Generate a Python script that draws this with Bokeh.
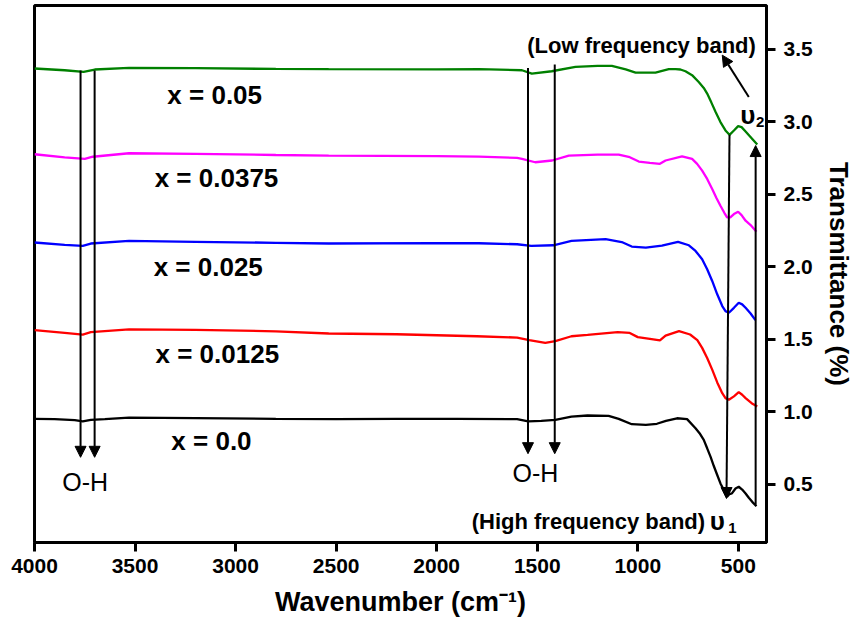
from bokeh.plotting import figure
from bokeh.models import Range1d, FixedTicker, NumeralTickFormatter, Arrow, NormalHead, ColumnDataSource
from bokeh.core.properties import value
from bokeh.embed import file_html
from bokeh.resources import INLINE

FONT = "Liberation Sans"

# ---- spectra (wavenumber cm-1, transmittance) ----
w_black = [4000, 3900, 3800, 3760, 3720, 3650, 3530, 3200, 2800, 2500, 2200, 1900, 1600, 1545, 1480, 1410,
           1330, 1250, 1145, 1095, 1030, 960, 905, 860, 805, 755, 713, 693, 672, 655, 638, 622, 605, 589,
           572, 556, 544, 532, 514, 498, 481, 464, 448, 431, 410]
t_black = [0.952, 0.950, 0.943, 0.934, 0.945, 0.950, 0.960, 0.957, 0.952, 0.950, 0.952, 0.952, 0.950, 0.934,
           0.938, 0.945, 0.968, 0.975, 0.973, 0.952, 0.915, 0.911, 0.918, 0.938, 0.956, 0.950, 0.887, 0.853,
           0.807, 0.749, 0.690, 0.627, 0.565, 0.507, 0.461, 0.415, 0.434, 0.438, 0.472, 0.484, 0.465, 0.438,
           0.408, 0.380, 0.350]

w_red = [4000, 3850, 3760, 3720, 3530, 3200, 2800, 2537, 2200, 1800, 1600, 1540, 1460, 1410, 1330, 1250,
         1100, 1040, 1000, 940, 890, 862, 795, 740, 704, 680, 655, 630, 605, 580, 564, 547, 522, 498, 481,
         464, 434, 406]
t_red = [1.563, 1.544, 1.533, 1.549, 1.568, 1.565, 1.555, 1.540, 1.535, 1.521, 1.512, 1.495, 1.475, 1.487,
         1.521, 1.530, 1.549, 1.544, 1.515, 1.503, 1.492, 1.526, 1.556, 1.533, 1.494, 1.441, 1.371, 1.291,
         1.203, 1.129, 1.095, 1.084, 1.107, 1.136, 1.118, 1.095, 1.060, 1.037]

w_blue = [4000, 3850, 3760, 3720, 3530, 3200, 2800, 2537, 2000, 1790, 1600, 1530, 1420, 1330, 1160, 1080,
          1030, 960, 880, 800, 746, 713, 680, 655, 630, 605, 580, 564, 547, 522, 498, 481, 464, 439, 415]
t_blue = [2.167, 2.151, 2.144, 2.160, 2.178, 2.172, 2.165, 2.160, 2.163, 2.162, 2.155, 2.144, 2.148, 2.178,
          2.190, 2.170, 2.139, 2.132, 2.145, 2.171, 2.148, 2.109, 2.052, 1.983, 1.902, 1.810, 1.729, 1.694,
          1.683, 1.717, 1.752, 1.741, 1.717, 1.678, 1.632]

w_magenta = [4000, 3850, 3750, 3710, 3530, 3200, 2800, 2537, 2000, 1790, 1600, 1576, 1510, 1426, 1343, 1200,
             1095, 1040, 995, 940, 890, 862, 780, 730, 705, 680, 655, 630, 609, 589, 569, 556, 540, 522, 501,
             484, 464, 439, 410]
t_magenta = [2.775, 2.754, 2.743, 2.758, 2.782, 2.778, 2.770, 2.766, 2.762, 2.759, 2.750, 2.743, 2.720, 2.732,
             2.766, 2.773, 2.773, 2.755, 2.725, 2.716, 2.709, 2.732, 2.761, 2.743, 2.709, 2.662, 2.605, 2.536,
             2.474, 2.420, 2.370, 2.340, 2.340, 2.363, 2.379, 2.356, 2.317, 2.287, 2.241]

w_green = [4000, 3850, 3756, 3700, 3530, 3200, 2800, 2537, 2000, 1790, 1576, 1527, 1428, 1310, 1200, 1129,
           1060, 1011, 912, 846, 812, 788, 763, 730, 697, 672, 655, 634, 613, 589, 564, 544, 522, 501, 484,
           464, 434, 406]
t_green = [3.366, 3.354, 3.342, 3.359, 3.370, 3.368, 3.363, 3.361, 3.360, 3.361, 3.354, 3.331, 3.347, 3.377,
           3.384, 3.384, 3.360, 3.338, 3.338, 3.361, 3.361, 3.359, 3.347, 3.320, 3.273, 3.232, 3.193, 3.131,
           3.066, 2.997, 2.939, 2.909, 2.939, 2.969, 2.962, 2.932, 2.886, 2.842]

# ---- composition labels ----
comp_text = ["x = 0.05", "x = 0.0375", "x = 0.025", "x = 0.0125", "x = 0.0"]
comp_w = [3104, 3095, 3136, 3091, 3120]
comp_t = [3.18, 2.61, 2.0, 1.40, 0.80]

# ---- arrows ----
arrow_x0 = [3771, 3701, 1546, 1413, 544, 414, 448]
arrow_y0 = [3.353, 3.353, 3.370, 3.393, 2.909, 0.360, 3.169]
arrow_x1 = [3771, 3701, 1546, 1413, 559, 414, 580]
arrow_y1 = [0.687, 0.687, 0.712, 0.712, 0.403, 2.835, 3.458]

oh_text = ["O-H", "O-H"]
oh_w = [3748, 1509]
oh_t = [0.52, 0.576]

band_text = ["(Low frequency band)", "(High frequency band)"]
nu_w = [605, 453]
nu_t = [0.245, 3.043]
sub_text = ["1", "2"]
sub_w = [530, 391]
sub_t = [0.20, 2.994]

x_ticks = [4000, 3500, 3000, 2500, 2000, 1500, 1000, 500]
y_ticks = [0.5, 1.0, 1.5, 2.0, 2.5, 3.0, 3.5]

p = figure(frame_width=732, frame_height=537, x_range=Range1d(4000, 360), y_range=Range1d(0.1, 3.8),
           y_axis_location="right", output_backend="svg", toolbar_location=None,
           min_border_left=34, min_border_top=5, min_border_bottom=0, min_border_right=0)
p.grid.visible = False
p.outline_line_color = "black"
p.outline_line_width = 3
p.background_fill_color = "white"
p.border_fill_color = "white"

for ax in (p.xaxis[0], p.yaxis[0]):
    ax.axis_line_width = 3
    ax.major_tick_line_width = 3
    ax.major_tick_out = 9
    ax.major_tick_in = 0
    ax.minor_tick_out = 0
    ax.minor_tick_in = 0
    ax.major_label_text_font = FONT
    ax.major_label_text_font_style = "bold"
    ax.major_label_text_font_size = "21px"
    ax.major_label_text_color = "black"
    ax.axis_label_text_font = FONT
    ax.axis_label_text_font_style = "bold"
    ax.axis_label_text_color = "black"

p.xaxis.axis_label_text_font_size = "27px"
p.yaxis.axis_label_text_font_size = "26px"
p.xaxis.major_label_standoff = 7
p.yaxis.major_label_standoff = 8
p.xaxis.ticker = FixedTicker(ticks=x_ticks)
p.yaxis.ticker = FixedTicker(ticks=y_ticks)
p.yaxis.formatter = NumeralTickFormatter(format="0.0")
p.xaxis.axis_label = "Wavenumber (cm\u207b\u00b9)"
p.yaxis.axis_label = "Transmittance (%)"
p.xaxis.axis_label_standoff = 11
p.yaxis.axis_label_standoff = 8

series = [(w_black, t_black, "black"), (w_red, t_red, "#ff0000"), (w_blue, t_blue, "#0000ff"),
          (w_magenta, t_magenta, "#ff00ff"), (w_green, t_green, "#008000")]
for w, t, c in series:
    p.line(w, t, line_color=c, line_width=2.3)

asrc = ColumnDataSource(dict(x0=arrow_x0, y0=arrow_y0, x1=arrow_x1, y1=arrow_y1))
p.add_layout(Arrow(source=asrc, x_start="x0", y_start="y0", x_end="x1", y_end="y1",
                   line_width=2, line_color="black",
                   end=NormalHead(size=11, fill_color="black", line_color="black")))

p.text(x=comp_w, y=comp_t, text=comp_text, text_font=value(FONT), text_font_style="bold",
       text_font_size="26px", text_align="center", text_baseline="middle", text_color="black")
p.text(x=oh_w, y=oh_t, text=oh_text, text_font=value(FONT), text_font_size="25px",
       text_align="center", text_baseline="middle", text_color="black")

p.text(x=[413], y=[3.527], text=[band_text[0]], text_font=value(FONT), text_font_style="bold",
       text_font_size="22px", text_align="right", text_baseline="middle", text_color="black")
p.text(x=[1826], y=[0.242], text=[band_text[1]], text_font=value(FONT), text_font_style="bold",
       text_font_size="22px", text_align="left", text_baseline="middle", text_color="black")
p.text(x=nu_w, y=nu_t, text=["\u03c5", "\u03c5"], text_font=value(FONT), text_font_style="bold",
       text_font_size="26px", text_align="center", text_baseline="middle", text_color="black")
p.text(x=sub_w, y=sub_t, text=sub_text, text_font=value(FONT), text_font_style="bold",
       text_font_size="15px", text_align="center", text_baseline="middle", text_color="black")

open("out.html", "w").write(file_html(p, INLINE))
